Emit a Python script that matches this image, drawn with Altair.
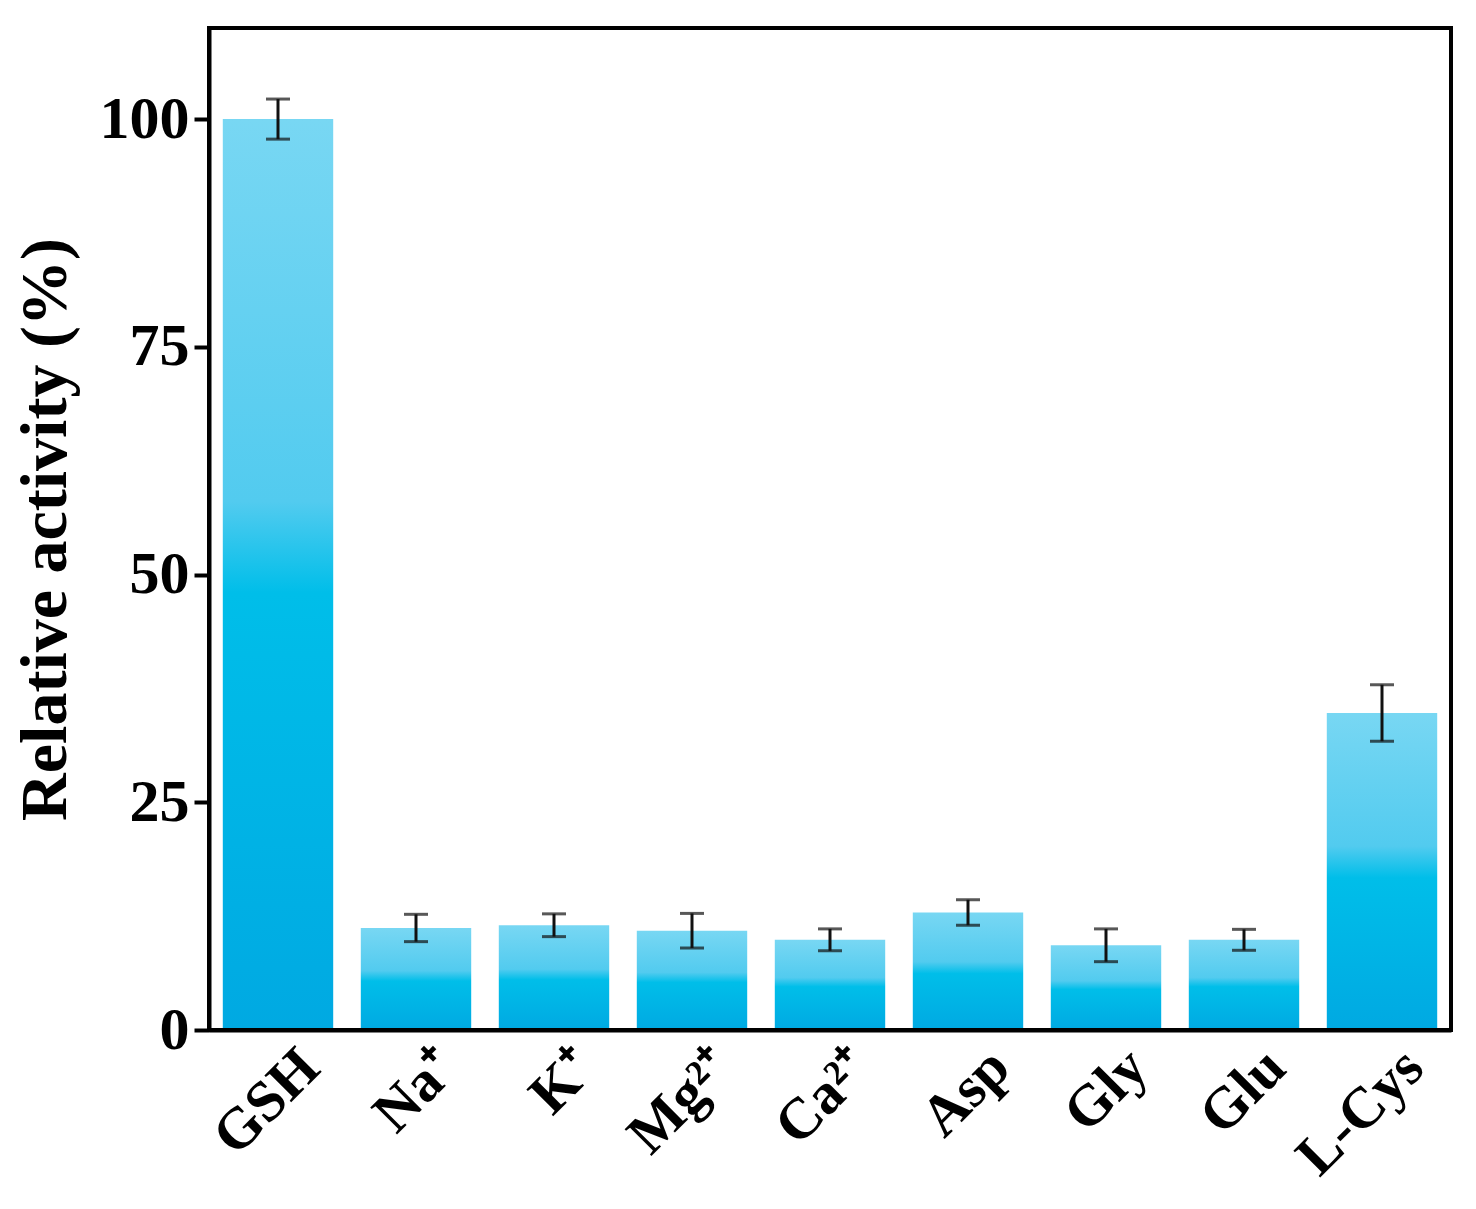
import altair as alt
import pandas as pd

categories = ["GSH", "Na⁺", "K⁺", "Mg²⁺", "Ca²⁺", "Asp", "Gly", "Glu", "L-Cys"]
activity = [100.0, 11.2, 11.5, 10.9, 9.9, 12.9, 9.3, 9.9, 34.8]
errors = [2.2, 1.5, 1.25, 1.9, 1.2, 1.4, 1.8, 1.15, 3.1]
y_ticks = [0, 25, 50, 75, 100]

df = pd.DataFrame({"cat": categories, "val": activity, "err": errors})
df["lo"] = df["val"] - df["err"]
df["hi"] = df["val"] + df["err"]

FONT = "Times New Roman, Liberation Serif, serif"

gradient = alt.LinearGradient(
    gradient="linear",
    x1=0, x2=0, y1=0, y2=1,
    stops=[
        alt.GradientStop(offset=0.0, color="#78d7f3"),
        alt.GradientStop(offset=0.42, color="#52cbef"),
        alt.GradientStop(offset=0.52, color="#00bee9"),
        alt.GradientStop(offset=1.0, color="#00a9e2"),
    ],
)

x_enc = alt.X(
    "cat:N",
    sort=None,
    title=None,
    scale=alt.Scale(paddingInner=0.2, paddingOuter=0.1),
    axis=alt.Axis(
        labelAngle=-45,
        labelFont=FONT,
        labelFontWeight="bold",
        labelFontSize=58,
        labelColor="black",
        ticks=False,
        labelPadding=8,
        labelOffset=12,
        domainColor="black",
        domainWidth=4,
    ),
)

y_scale = alt.Scale(domain=[0, 110], nice=False)

bars = alt.Chart(df).mark_bar(color=gradient).encode(
    x=x_enc,
    y=alt.Y(
        "val:Q",
        scale=y_scale,
        title="Relative activity (%)",
        axis=alt.Axis(
            values=y_ticks,
            grid=False,
            labelFont=FONT,
            labelFontWeight="bold",
            labelFontSize=60,
            labelColor="black",
            labelPadding=5,
            tickSize=15,
            tickWidth=4,
            tickColor="black",
            domainColor="black",
            domainWidth=4,
            titleFont=FONT,
            titleFontWeight="bold",
            titleFontSize=66,
            titleColor="black",
            titlePadding=20,
        ),
    ),
)

rules = alt.Chart(df).mark_rule(color="#111111", strokeWidth=3).encode(
    x=alt.X("cat:N", sort=None),
    y=alt.Y("lo:Q", scale=y_scale),
    y2="hi:Q",
)

caps_hi = alt.Chart(df).mark_tick(color="#111111", thickness=3, size=24, orient="horizontal").encode(
    x=alt.X("cat:N", sort=None),
    y=alt.Y("hi:Q", scale=y_scale),
)
caps_lo = alt.Chart(df).mark_tick(color="#111111", thickness=3, size=24, orient="horizontal").encode(
    x=alt.X("cat:N", sort=None),
    y=alt.Y("lo:Q", scale=y_scale),
)

frame = alt.Chart(df).mark_rect(fill=None, stroke="black", strokeWidth=4, fillOpacity=0).encode(
    x=alt.value(0),
    x2=alt.value("width"),
    y=alt.value(0),
    y2=alt.value("height"),
)

chart = (
    alt.layer(bars, rules, caps_hi, caps_lo, frame)
    .properties(width=1242, height=1002, padding={"left": 4, "top": 18, "right": 10, "bottom": 5})
    .configure_view(strokeWidth=0)
    .configure(background="white")
)

chart.save("out.html", embed_options={"renderer": "svg", "actions": False})
